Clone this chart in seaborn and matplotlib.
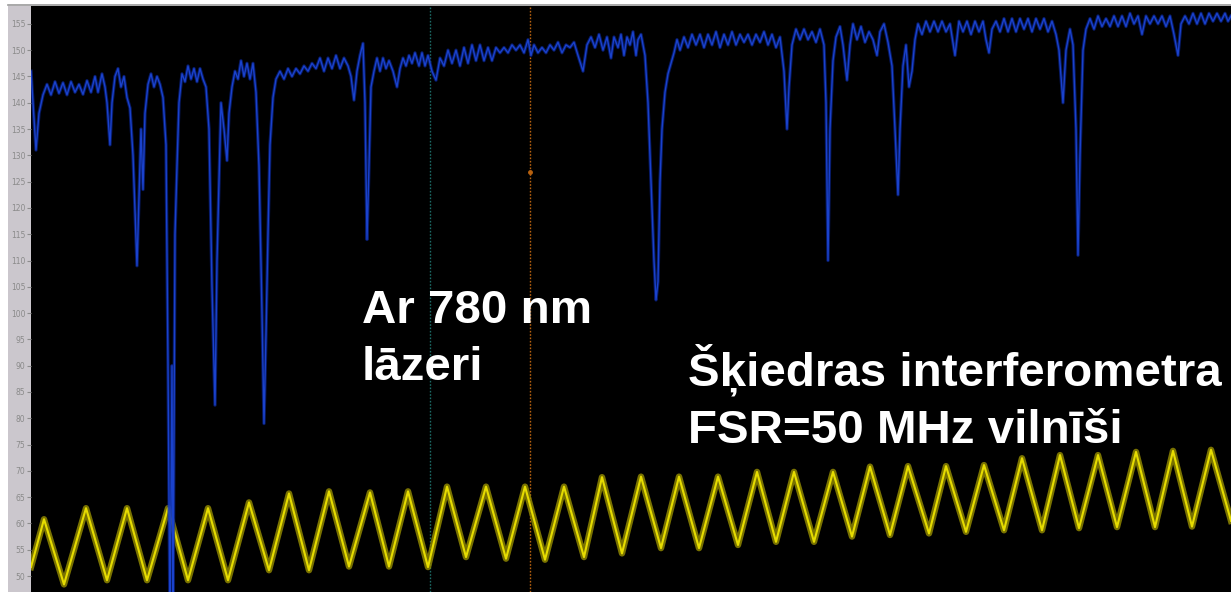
import numpy as np
import pandas as pd
import matplotlib
matplotlib.use("Agg")
import matplotlib.pyplot as plt
from matplotlib.patches import Rectangle
from matplotlib.lines import Line2D
import seaborn as sns

# --- Rb absorption trace (sample index, signal level) ---
absorption_x = [
    0, 2, 5, 8, 12, 16, 20, 24, 28, 32, 36, 40, 44, 48, 52, 56, 60, 64, 67, 71, 74,
    76, 79, 81, 84, 87, 90, 93, 96, 99, 102, 106, 108, 110, 112, 114, 117, 120, 123, 126, 129,
    132, 135, 137, 139, 141, 142, 144, 146, 148, 151, 154, 157, 160, 163, 166, 169, 172, 175, 178,
    181, 184, 186, 188, 190, 193, 196, 198, 201, 204, 207, 210, 213, 216, 219, 222, 225, 228,
    231, 233, 235, 237, 239, 242, 245, 249, 253, 257, 261, 265, 269, 273, 277, 281, 285, 289,
    293, 297, 301, 305, 309, 313, 317, 320, 323, 326, 329, 332, 334, 336, 338, 340, 343, 346,
    349, 352, 355, 358, 362, 366, 369, 372, 375, 378, 381, 384, 388, 391, 394, 397, 401, 405,
    409, 413, 417, 421, 425, 429, 433, 437, 441, 445, 449, 453, 457, 461, 465, 469, 473, 477,
    481, 485, 489, 493, 497, 500, 503, 507, 511, 515, 519, 523, 527, 531, 535, 539, 543, 547,
    552, 556, 560, 564, 568, 572, 576, 580, 583, 587, 590, 593, 596, 599, 602, 605, 607, 610,
    614, 617, 620, 623, 625, 627, 629, 631, 634, 637, 640, 643, 646, 649, 653, 657, 661, 665,
    669, 673, 677, 681, 685, 689, 693, 697, 701, 705, 709, 713, 717, 721, 725, 729, 733, 737,
    741, 745, 749, 753, 756, 758, 761, 765, 769, 773, 777, 781, 785, 789, 793, 795, 797, 799,
    802, 805, 809, 812, 816, 819, 822, 826, 830, 834, 838, 842, 846, 849, 853, 857, 861, 864,
    867, 869, 872, 875, 878, 881, 884, 887, 891, 895, 899, 903, 907, 911, 915, 919, 924, 928,
    932, 936, 940, 944, 948, 952, 955, 958, 961, 965, 969, 973, 977, 981, 985, 989, 993, 997,
    1001, 1005, 1009, 1013, 1017, 1021, 1025, 1028, 1032, 1035, 1039, 1042, 1045, 1047, 1049,
    1052, 1055, 1059, 1063, 1067, 1071, 1075, 1079, 1083, 1087, 1091, 1095, 1099, 1103, 1107,
    1111, 1115, 1119, 1123, 1127, 1131, 1135, 1139, 1143, 1147, 1150, 1154, 1158, 1162, 1166,
    1170, 1174, 1178, 1182, 1186, 1190, 1194, 1197, 1200,
]
absorption_y = [
    146.0, 140.0, 131.0, 138.0, 141.5, 143.5, 141.5, 144.0, 141.8, 143.8, 141.5, 144.0, 142.0,
    143.5, 141.6, 144.2, 142.0, 145.0, 142.0, 145.5, 143.0,
    140.0, 132.0, 140.0, 145.0, 146.5, 143.0, 145.0, 141.0, 139.0, 130.0, 109.0, 122.0, 135.0,
    123.5, 138.0, 143.5, 145.5, 143.0, 145.0, 143.5,
    141.0, 132.0, 90.0, 40.0, 90.0, 40.0, 115.0, 128.0, 140.0, 145.5, 144.0, 147.0, 144.5,
    146.5, 144.0, 146.5, 144.5, 143.0, 135.0,
    105.0, 82.5, 110.0, 125.0, 140.0, 135.0, 129.0, 138.0, 143.0, 146.0, 144.5, 148.0, 145.0,
    147.5, 144.5, 147.5, 142.0, 128.0,
    100.0, 79.0, 96.0, 115.0, 132.0, 141.0, 144.5, 146.0, 144.5, 146.5, 145.0, 146.5, 145.5,
    147.0, 146.0, 147.5, 146.5, 148.5,
    146.0, 148.5, 146.5, 149.0, 146.5, 148.5, 147.0, 145.0, 140.5, 146.0, 149.0, 151.3, 140.0,
    114.0, 128.0, 143.0, 146.0, 148.5,
    146.0, 148.5, 146.5, 148.0, 146.0, 143.0, 146.5, 148.5, 147.0, 149.0, 147.5, 149.5, 147.0,
    149.5, 147.0, 149.0, 146.0, 144.3,
    148.5, 147.0, 150.0, 147.5, 150.0, 147.0, 150.5, 147.5, 151.0, 148.0, 151.0, 148.0, 150.5,
    148.0, 150.5, 149.5, 150.5, 149.5,
    151.0, 150.0, 151.0, 149.5, 152.0, 149.0, 151.0, 149.5, 150.5, 149.5, 151.0, 150.0, 151.5,
    149.5, 151.0, 150.5, 151.5, 149.0,
    146.0, 151.0, 152.5, 150.5, 153.0, 150.0, 152.5, 148.5, 152.5, 150.5, 153.0, 149.0, 152.5,
    151.0, 153.5, 149.0, 152.0, 153.0,
    149.0, 140.0, 125.0, 110.0, 102.5, 106.0, 125.0, 135.0, 142.0, 145.5, 147.5, 149.5, 152.0,
    150.0, 152.5, 150.5, 153.0, 151.0,
    153.0, 150.5, 153.0, 151.0, 153.5, 150.5, 153.0, 151.0, 153.5, 151.0, 153.0, 151.5, 153.0,
    151.0, 153.0, 151.5, 153.5, 151.0,
    153.0, 150.5, 152.5, 146.0, 135.0, 143.0, 151.0, 154.0, 152.0, 154.0, 152.0, 153.5, 151.5,
    154.0, 151.0, 140.0, 110.0, 135.0,
    148.0, 152.5, 154.5, 151.0, 144.3, 151.0, 155.0, 152.0, 154.5, 151.5, 153.5, 152.0, 149.0,
    153.5, 155.0, 151.5, 147.0, 135.0,
    122.5, 135.0, 147.0, 151.0, 143.0, 146.0, 152.0, 155.0, 153.0, 155.5, 153.5, 155.5, 153.5,
    155.5, 153.5, 155.0, 149.0, 155.5,
    153.5, 155.5, 153.0, 155.5, 153.5, 155.5, 152.0, 149.5, 154.0, 155.5, 153.5, 156.0, 153.5,
    156.0, 153.5, 156.0, 154.0, 156.0,
    153.5, 156.0, 154.0, 156.0, 153.5, 155.5, 153.0, 150.0, 140.0, 150.0, 154.0, 151.0, 135.0,
    111.0, 130.0,
    150.0, 154.0, 156.0, 154.0, 156.5, 154.5, 156.0, 154.5, 156.5, 154.5, 156.5, 154.5, 157.0,
    155.0, 156.5,
    153.0, 156.5, 155.0, 156.5, 155.0, 156.5, 154.5, 156.5, 153.0, 149.0, 155.0, 156.5, 155.0,
    157.0, 155.0,
    157.0, 155.0, 157.0, 155.5, 157.0, 155.5, 157.0, 155.5, 156.5,
]

# --- Fibre interferometer fringes: turning points of the triangle sweep ---
fringe_x = [
    0, 13, 33, 55, 76, 96, 116, 137, 157, 177, 197, 218, 238, 258, 278, 298, 318, 339, 358,
    377, 397, 416, 435, 455, 475, 494, 514, 533, 553, 571, 591, 610, 630, 648, 668, 687, 707,
    726, 745, 763, 783, 802, 821, 839, 859, 877, 898, 915, 935, 953, 973, 991, 1011, 1029, 1048,
    1067, 1086, 1105, 1124, 1142, 1161, 1180, 1200,
]
fringe_y = [
    51.7, 60.8, 48.4, 62.9, 49.2, 62.9, 49.2, 62.9, 49.2, 62.9, 49.2, 64.0, 51.1, 65.7, 51.1,
    66.1, 51.8, 65.9, 51.8, 66.1, 51.7, 67.0, 53.6, 67.0, 53.3, 67.0, 53.1, 67.0, 53.6, 68.8,
    54.3, 68.9, 55.3, 68.9, 55.3, 68.9, 55.9, 69.8, 56.5, 69.8, 56.5, 69.8, 57.5, 70.8, 57.8,
    70.9, 58.1, 70.9, 58.4, 71.1, 58.7, 72.4, 58.7, 73.0, 59.1, 73.0, 59.3, 73.6, 59.3, 73.8,
    59.4, 74.0, 60.5,
]

# cursor markers
cursor_x = [399, 499]
cursor_colors = ["#1c6b66", "#b8620f"]

y_ticks = list(range(50, 160, 5))

absorption = pd.DataFrame({"x": absorption_x, "y": absorption_y})
fringes = pd.DataFrame({"x": fringe_x, "y": fringe_y})

W, H = 1231, 592
fig = plt.figure(figsize=(W / 100, H / 100), dpi=100, facecolor="white")
ax = fig.add_axes([31 / W, 0, 1200 / W, 586 / H])
ax.set_facecolor("black")

# grey strip behind the tick labels and the thin frame line on top
fig.patches.append(Rectangle((8 / W, 0), 23 / W, 586 / H, transform=fig.transFigure,
                             facecolor="#cbc7cd", edgecolor="none", zorder=-1))
fig.lines.append(Line2D([8 / W, 1], [587 / H, 587 / H], transform=fig.transFigure,
                        color="#9a9a9a", lw=1.2, zorder=-1))

# cursors
for cx, cc in zip(cursor_x, cursor_colors):
    ax.axvline(cx, color=cc, lw=1.0, ls=(0, (1.2, 1.2)), zorder=1)
ax.plot([cursor_x[1]], [126.8], marker="o", ms=2.5, color=cursor_colors[1], zorder=1)

# interferometer fringes: soft olive band with a bright core
sns.lineplot(data=fringes, x="x", y="y", sort=False, estimator=None, ax=ax,
             color="#8f8700", lw=4.6, alpha=0.85, zorder=2)
sns.lineplot(data=fringes, x="x", y="y", sort=False, estimator=None, ax=ax,
             color="#e6dc00", lw=1.5, zorder=3)

# absorption spectrum
sns.lineplot(data=absorption, x="x", y="y", sort=False, estimator=None, ax=ax,
             color="#0a2590", lw=2.4, alpha=0.7, zorder=4)
sns.lineplot(data=absorption, x="x", y="y", sort=False, estimator=None, ax=ax,
             color="#1a42cc", lw=1.0, zorder=5)

ax.set_xlim(0, 1200)
ax.set_ylim(46.96, 158.4)
ax.set_xticks([])
ax.set_yticks(y_ticks)
ax.set_yticklabels([str(t) for t in y_ticks])
ax.tick_params(axis="y", direction="out", length=3, width=0.8, color="#8c8c8c",
               labelsize=5.5, labelcolor="#8a8a8a", pad=1)
ax.set_xlabel("")
ax.set_ylabel("")
for s in ax.spines.values():
    s.set_visible(False)

txt = dict(color="white", fontsize=34.2, fontweight="bold",
           family=["Liberation Sans", "DejaVu Sans"], va="baseline", ha="left", zorder=10)
fig.text(362 / W, 1 - 323 / H, "Ar 780 nm", **txt)
fig.text(362 / W, 1 - 380 / H, "lāzeri", **txt)
fig.text(688 / W, 1 - 386 / H, "Šķiedras interferometra", **txt)
fig.text(688 / W, 1 - 443 / H, "FSR=50 MHz vilnīši", **txt)

fig.savefig("out.png", dpi=100, facecolor="white")
